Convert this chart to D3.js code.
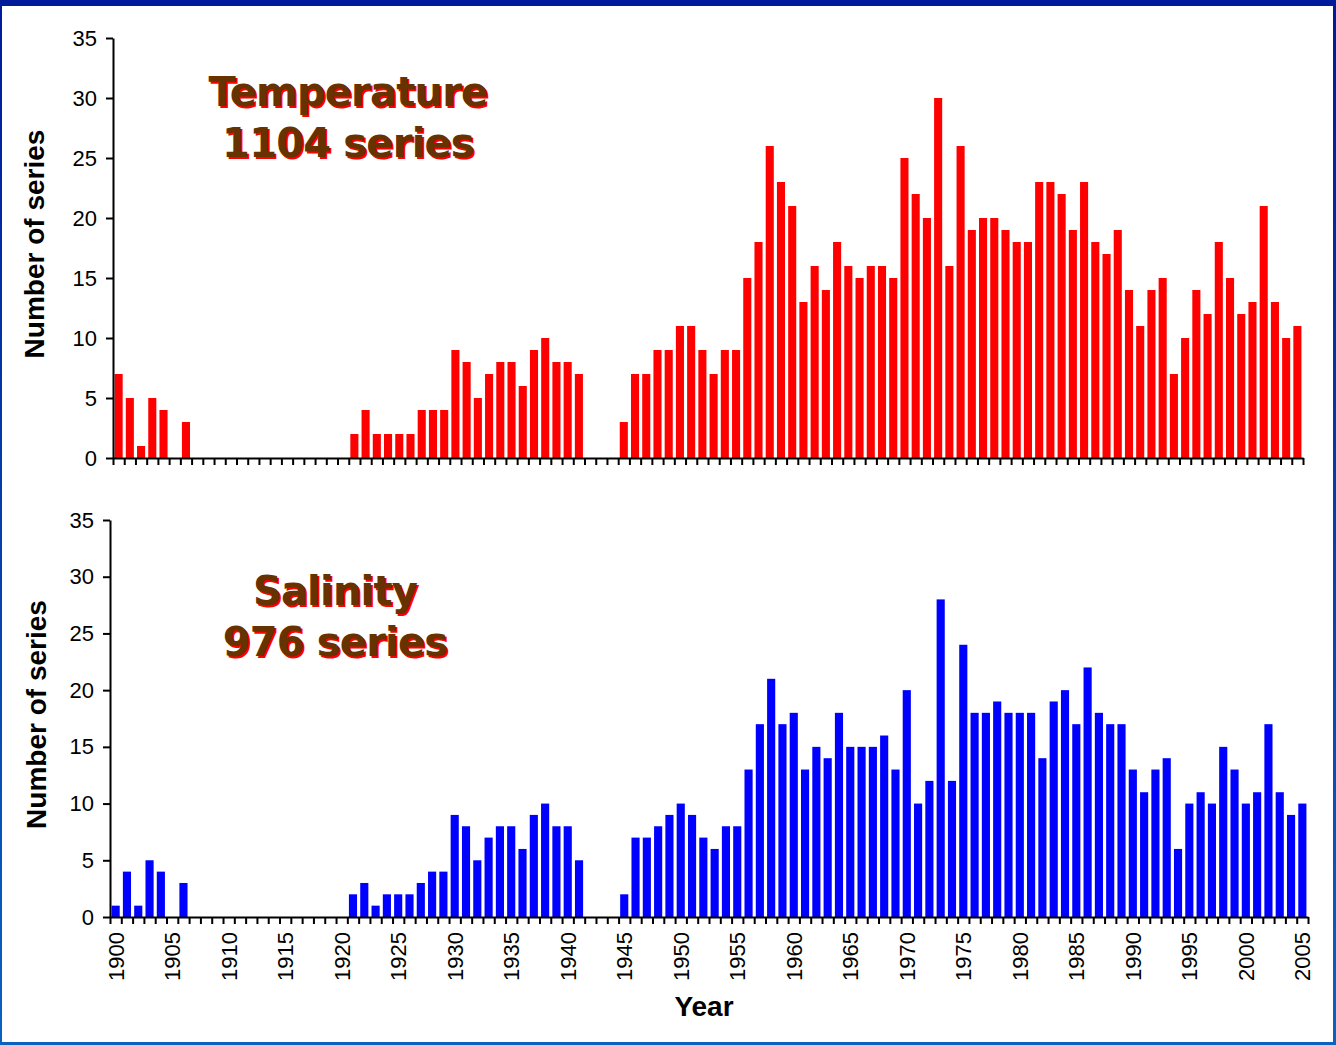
<!DOCTYPE html>
<html>
<head>
<meta charset="utf-8">
<script src="https://cdn.jsdelivr.net/npm/d3@7"></script>
<style>
  body { margin: 0; background: #fff; }
  svg { display: block; }
  .axis path, .axis line { stroke: #000; }
</style>
</head>
<body>
<div id="chart"></div>
<script>
// years 1900..2005, one bar per year
let years = d3.range(1900, 2006)

let tempCounts = [
  7, 5, 1, 5, 4, 0, 3, 0, 0, 0,
  0, 0, 0, 0, 0, 0, 0, 0, 0, 0,
  0, 2, 4, 2, 2, 2, 2, 4, 4, 4,
  9, 8, 5, 7, 8, 8, 6, 9, 10, 8,
  8, 7, 0, 0, 0, 3, 7, 7, 9, 9,
  11, 11, 9, 7, 9, 9, 15, 18, 26, 23,
  21, 13, 16, 14, 18, 16, 15, 16, 16, 15,
  25, 22, 20, 30, 16, 26, 19, 20, 20, 19,
  18, 18, 23, 23, 22, 19, 23, 18, 17, 19,
  14, 11, 14, 15, 7, 10, 14, 12, 18, 15,
  12, 13, 21, 13, 10, 11
]

let salCounts = [
  1, 4, 1, 5, 4, 0, 3, 0, 0, 0,
  0, 0, 0, 0, 0, 0, 0, 0, 0, 0,
  0, 2, 3, 1, 2, 2, 2, 3, 4, 4,
  9, 8, 5, 7, 8, 8, 6, 9, 10, 8,
  8, 5, 0, 0, 0, 2, 7, 7, 8, 9,
  10, 9, 7, 6, 8, 8, 13, 17, 21, 17,
  18, 13, 15, 14, 18, 15, 15, 15, 16, 13,
  20, 10, 12, 28, 12, 24, 18, 18, 19, 18,
  18, 18, 14, 19, 20, 17, 22, 18, 17, 17,
  13, 11, 13, 14, 6, 10, 11, 10, 15, 13,
  10, 11, 17, 11, 9, 10
]

let yTicks = [0, 5, 10, 15, 20, 25, 30, 35]
let yearLabels = [1900, 1905, 1910, 1915, 1920, 1925, 1930, 1935, 1940, 1945, 1950,
                  1955, 1960, 1965, 1970, 1975, 1980, 1985, 1990, 1995, 2000, 2005]

let W = 1336, H = 1045

let svg = d3.select('#chart').append('svg')
    .attr('width', W)
    .attr('height', H)

// slide frame
svg.append('rect').attr('x', 0).attr('y', 0).attr('width', W).attr('height', H).attr('fill', '#fff')
let grad = svg.append('defs').append('linearGradient')
    .attr('id', 'frameGrad').attr('x1', 0).attr('y1', 0).attr('x2', 0).attr('y2', 1)
grad.append('stop').attr('offset', '0%').attr('stop-color', '#001a9a')
grad.append('stop').attr('offset', '100%').attr('stop-color', '#0a62c0')
svg.append('rect').attr('x', 0).attr('y', 0).attr('width', W).attr('height', 6).attr('fill', '#001a9a')
svg.append('rect').attr('x', 0).attr('y', 0).attr('width', 2).attr('height', H).attr('fill', 'url(#frameGrad)')
svg.append('rect').attr('x', W - 3).attr('y', 0).attr('width', 3).attr('height', H).attr('fill', 'url(#frameGrad)')
svg.append('rect').attr('x', 0).attr('y', H - 3).attr('width', W).attr('height', 3).attr('fill', '#0a62c0')

function drawPanel(cfg){
    let {values, color, left, right, top, bottom, title, showLabels, titleX, titleY, yTitleX} = cfg

    let scX = d3.scaleBand().domain(years).range([left, right])
        .paddingInner(0.28).paddingOuter(0.14)
    let edge = d3.scaleLinear().domain([1900, 2006]).range([left, right])
    let scY = d3.scaleLinear().domain([0, 35]).range([bottom, top])

    let g = svg.append('g')

    g.selectAll('rect.bar')
        .data(values)
        .enter()
        .append('rect')
        .attr('class', 'bar')
        .attr('x', (d, i)=>scX(years[i]))
        .attr('y', d=>scY(d))
        .attr('width', scX.bandwidth())
        .attr('height', d=>bottom - scY(d))
        .attr('fill', color)

    // tick marks between the years
    let tickAxis = d3.axisBottom(edge)
        .tickValues(d3.range(1900, 2007))
        .tickFormat('')
        .tickSize(7)
        .tickSizeOuter(0)
    g.append('g')
        .attr('class', 'axis')
        .attr('transform', `translate(0, ${bottom})`)
        .call(tickAxis)
        .call(a=>a.selectAll('line').attr('stroke-width', 2))
        .call(a=>a.select('.domain').attr('stroke-width', 2))

    if (showLabels) {
        let labAxis = d3.axisBottom(scX).tickValues(yearLabels).tickSize(0)
        g.append('g')
            .attr('transform', `translate(0, ${bottom})`)
            .call(labAxis)
            .call(a=>a.select('.domain').remove())
            .selectAll('text')
            .attr('transform', 'rotate(-90)')
            .attr('x', -15)
            .attr('y', 0)
            .attr('dy', '0.36em')
            .style('text-anchor', 'end')
            .attr('font-family', 'Liberation Sans, Arial, sans-serif')
            .attr('font-size', '22px')
            .attr('fill', '#000')
    }

    let axY = d3.axisLeft(scY).tickValues(yTicks).tickSize(7).tickSizeOuter(0).tickPadding(9)
    g.append('g')
        .attr('class', 'axis')
        .attr('transform', `translate(${left}, 0)`)
        .call(axY)
        .call(a=>a.selectAll('line').attr('stroke-width', 2))
        .call(a=>a.select('.domain').attr('stroke-width', 2))
        .selectAll('text')
        .attr('font-family', 'Liberation Sans, Arial, sans-serif')
        .attr('font-size', '22px')
        .attr('fill', '#000')

    g.append('text')
        .attr('transform', `translate(${yTitleX}, ${(top + bottom) / 2 - 4}) rotate(-90)`)
        .attr('text-anchor', 'middle')
        .attr('font-family', 'Liberation Sans, Arial, sans-serif')
        .attr('font-weight', 'bold')
        .attr('font-size', '28px')
        .text('Number of series')

    // shadowed title
    title.forEach((line, k)=>{
        let y = titleY + k * 51
        g.append('text')
            .attr('x', titleX + 2).attr('y', y + 2)
            .attr('text-anchor', 'middle')
            .attr('font-family', 'DejaVu Sans, Verdana, sans-serif')
            .attr('font-weight', 'bold')
            .attr('font-size', '40px')
            .attr('letter-spacing', '-0.8px')
            .attr('fill', '#ff0000')
            .text(line)
        g.append('text')
            .attr('x', titleX).attr('y', y)
            .attr('text-anchor', 'middle')
            .attr('font-family', 'DejaVu Sans, Verdana, sans-serif')
            .attr('font-weight', 'bold')
            .attr('font-size', '40px')
            .attr('letter-spacing', '-0.8px')
            .attr('fill', '#663300')
            .text(line)
    })
}

drawPanel({
    values: tempCounts, color: '#ff0000',
    left: 113, right: 1303, top: 38, bottom: 458,
    title: ['Temperature', '1104 series'], titleX: 348, titleY: 106,
    yTitleX: 44, showLabels: false
})

drawPanel({
    values: salCounts, color: '#0000ff',
    left: 110, right: 1308, top: 520, bottom: 917,
    title: ['Salinity', '976 series'], titleX: 335, titleY: 605,
    yTitleX: 46, showLabels: true
})

svg.append('text')
    .attr('x', 704)
    .attr('y', 1016)
    .attr('text-anchor', 'middle')
    .attr('font-family', 'Liberation Sans, Arial, sans-serif')
    .attr('font-weight', 'bold')
    .attr('font-size', '28px')
    .text('Year')
</script>
</body>
</html>
